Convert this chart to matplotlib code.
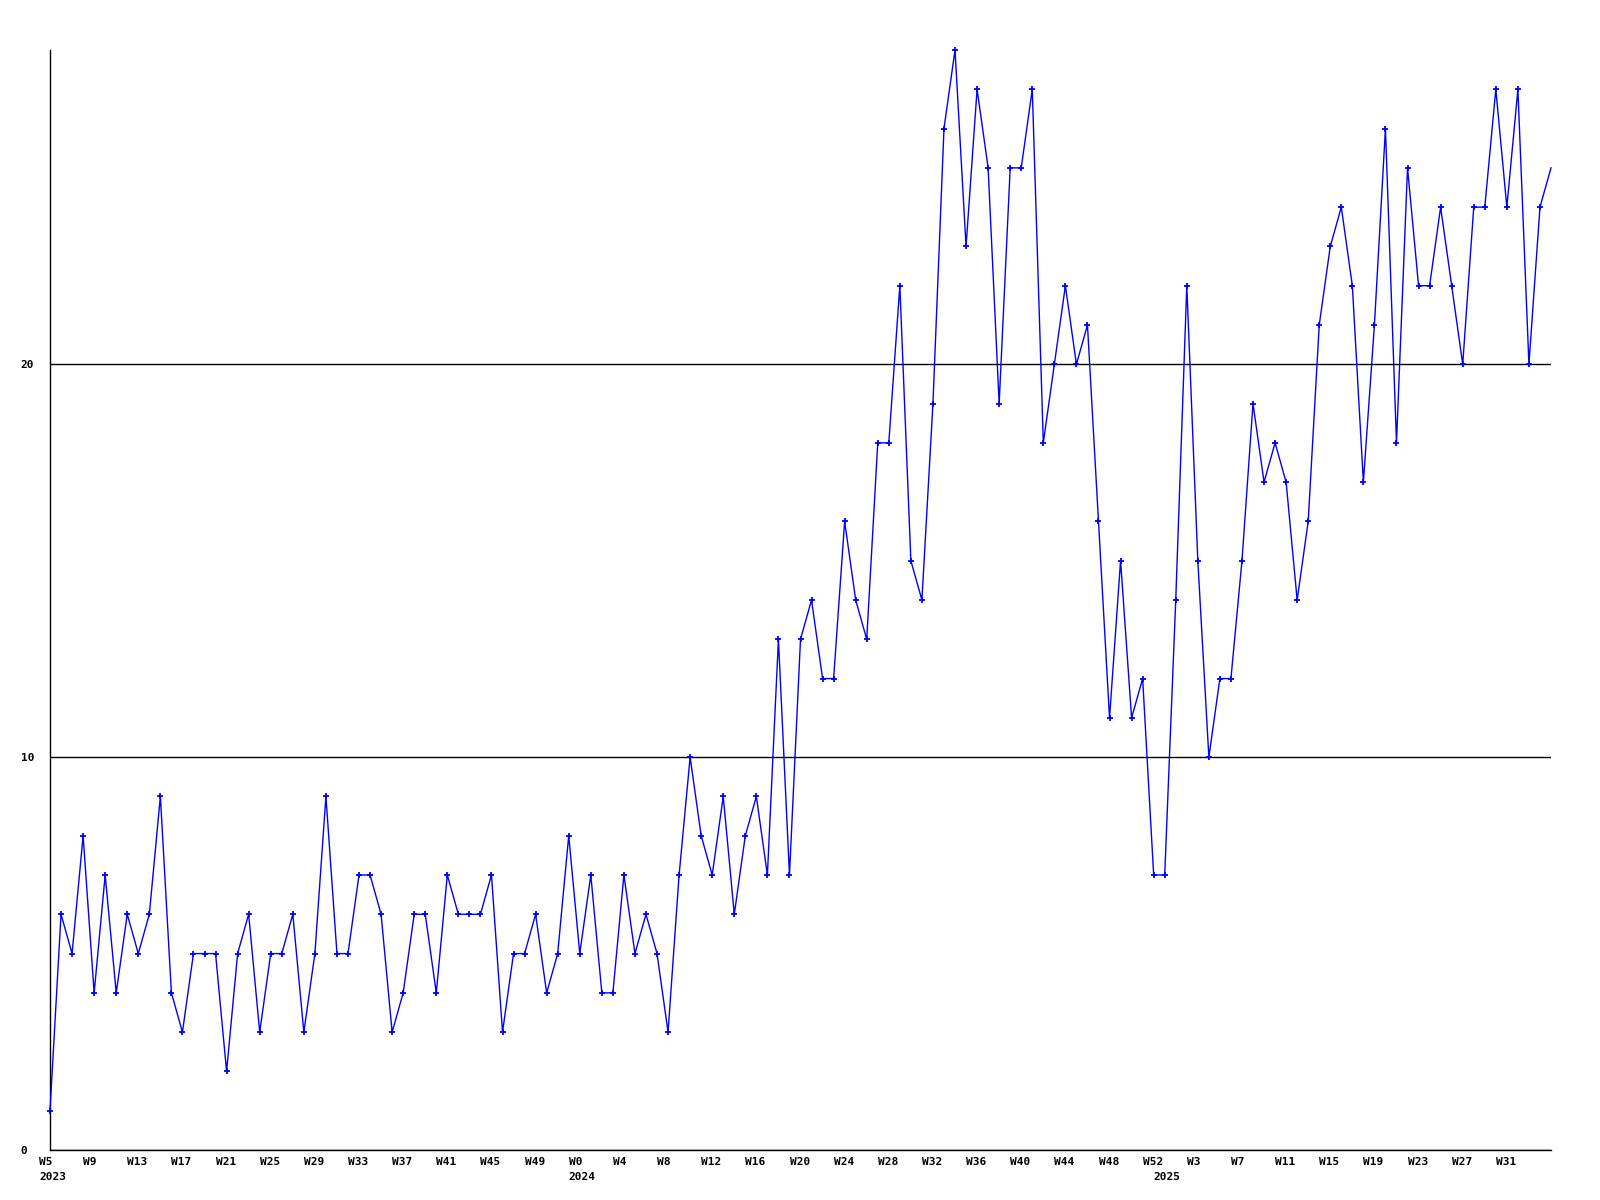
import numpy as np
import matplotlib
matplotlib.use("Agg")
import matplotlib.pyplot as plt
import matplotlib.transforms as mtransforms

# weekly counts, W5 2023 .. W35 2025
values_2023 = [1, 6, 5, 8, 4, 7, 4, 6, 5, 6, 9, 4, 3, 5, 5, 5, 2, 5, 6, 3,
               5, 5, 6, 3, 5, 9, 5, 5, 7, 7, 6, 3, 4, 6, 6, 4, 7, 6, 6, 6,
               7, 3, 5, 5, 6, 4, 5, 8]
values_2024 = [5, 7, 4, 4, 7, 5, 6, 5, 3, 7, 10, 8, 7, 9, 6, 8, 9, 7, 13, 7,
               13, 14, 12, 12, 16, 14, 13, 18, 18, 22, 15, 14, 19, 26, 28, 23, 27, 25, 19, 25,
               25, 27, 18, 20, 22, 20, 21, 16, 11, 15, 11, 12, 7]
values_2025 = [7, 14, 22, 15, 10, 12, 12, 15, 19, 17, 18, 17, 14, 16, 21, 23, 24, 22, 17, 21,
               26, 18, 25, 22, 22, 24, 22, 20, 24, 24, 27, 24, 27, 20, 24, 25]

weeks_2023 = list(range(5, 53))
weeks_2024 = list(range(0, 53))
weeks_2025 = list(range(0, 36))
years = ["2023", "2024", "2025"]

values = values_2023 + values_2024 + values_2025
weeks = weeks_2023 + weeks_2024 + weeks_2025
x = np.arange(len(values))
year_start = [0, len(weeks_2023), len(weeks_2023) + len(weeks_2024)]

fig = plt.figure(figsize=(16, 12), dpi=100)
ax = fig.add_axes([50/1600, 50/1200, 1501/1600, 1100/1200])

# last week is still running: no marker on it
ax.plot(x, values, color='#0000ff', linewidth=1.0, marker='+', markersize=4,
        markeredgewidth=1.3, markevery=list(range(len(values) - 1)),
        clip_on=False, zorder=3)

ax.set_xlim(0, len(values) - 1)
ax.set_ylim(0, 28)

for s in ['top', 'right']:
    ax.spines[s].set_visible(False)
for s in ['left', 'bottom']:
    ax.spines[s].set_color('black')
    ax.spines[s].set_linewidth(1.0)

ax.set_yticks([0, 10, 20])
ax.grid(axis='y', color='black', linewidth=1.0)
ax.set_axisbelow(True)

font = dict(family='DejaVu Sans Mono', weight='bold', size=8)

ticks = x[:-1:4]
ax.set_xticks(ticks)
ax.set_xticklabels([f"W{weeks[i]}" for i in ticks], **font)
ax.set_yticklabels(["0", "10", "20"], **font)
ax.tick_params(axis='both', length=0)
ax.tick_params(axis='x', pad=5)
ax.tick_params(axis='y', pad=21)

shift_x = mtransforms.ScaledTranslation(-11/100, 0, fig.dpi_scale_trans)
for lbl in ax.get_xticklabels():
    lbl.set_ha('left')
    lbl.set_transform(lbl.get_transform() + shift_x)
for lbl in ax.get_yticklabels():
    lbl.set_ha('left')

trans = ax.get_xaxis_transform() + mtransforms.ScaledTranslation(-11/100, -22/100, fig.dpi_scale_trans)
for yr, i in zip(years, year_start):
    ax.text(x[i], 0, yr, transform=trans, ha='left', va='top', **font)

fig.savefig("out.png", dpi=100, facecolor='white')
